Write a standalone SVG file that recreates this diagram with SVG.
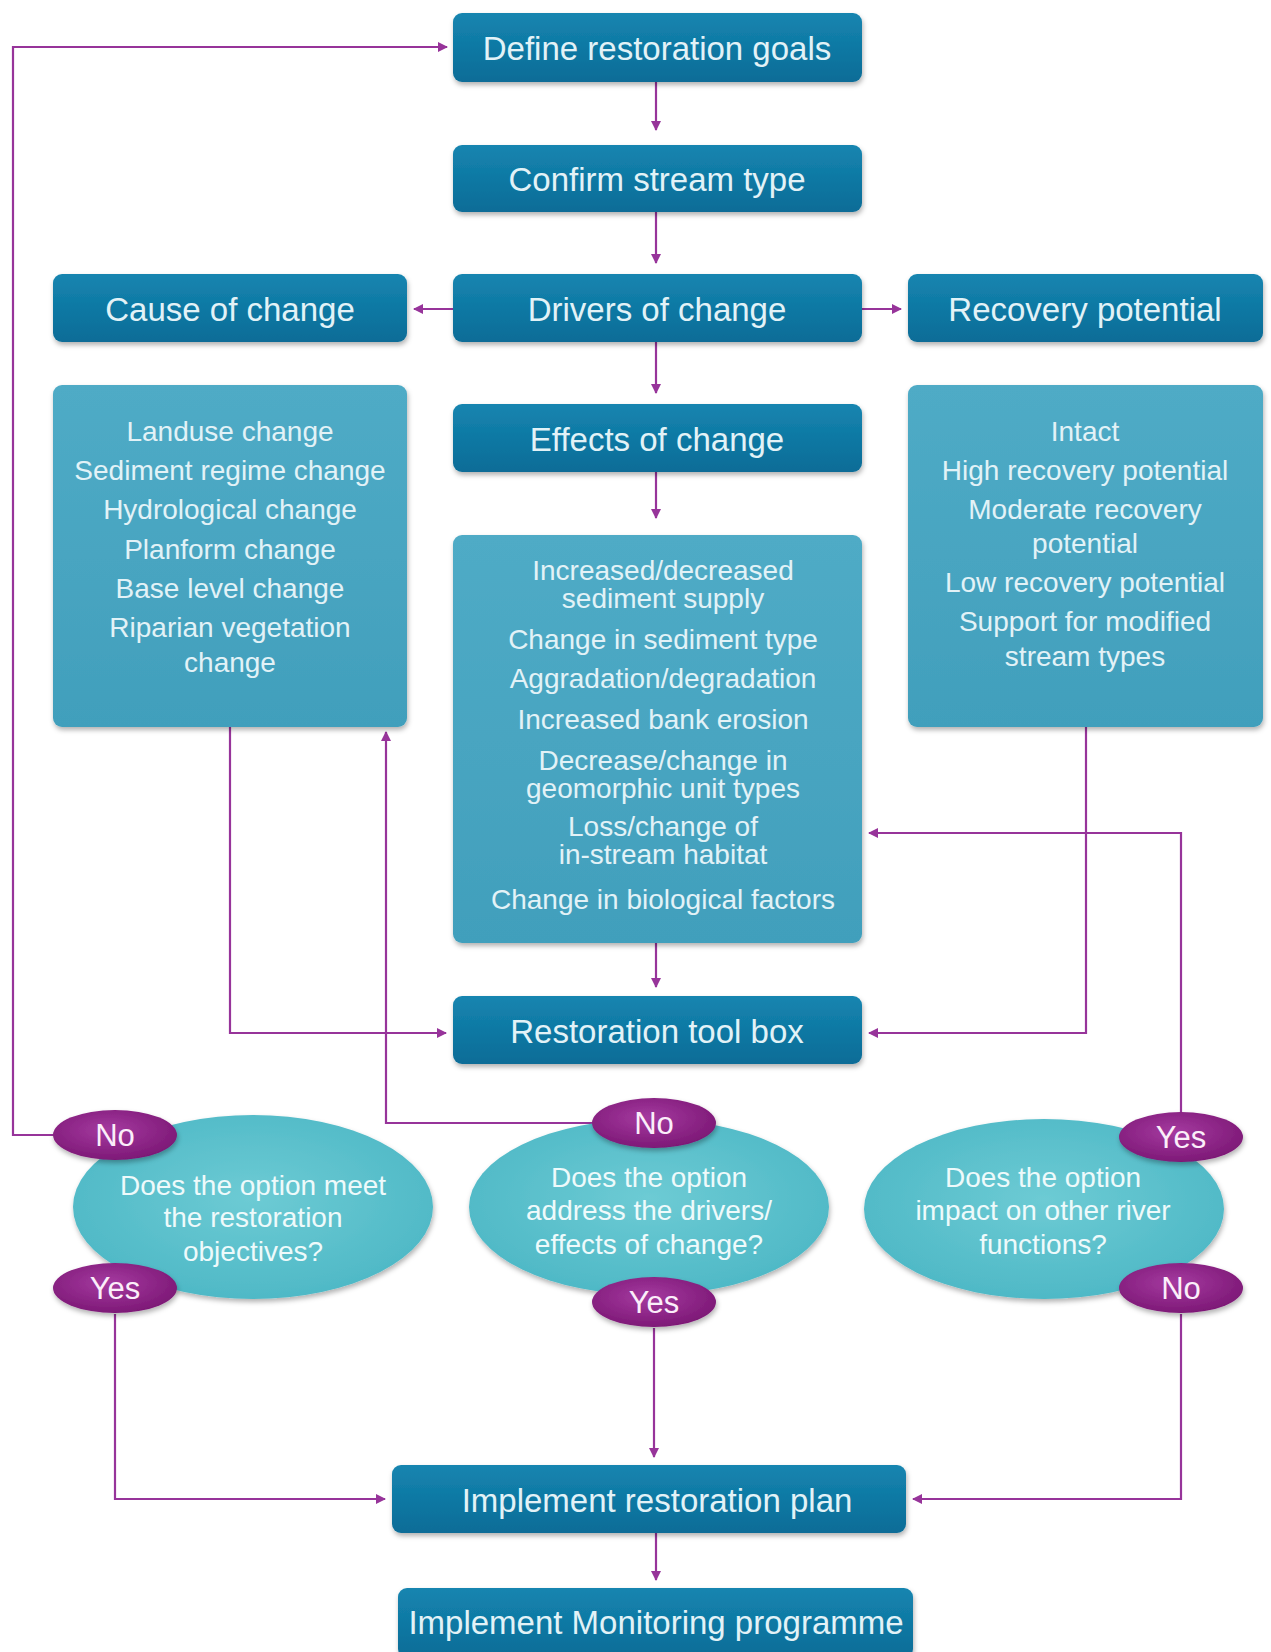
<svg xmlns="http://www.w3.org/2000/svg" width="1271" height="1652" viewBox="0 0 1271 1652">
<defs>
<linearGradient id="gDark" x1="0" y1="0" x2="0" y2="1">
<stop offset="0" stop-color="#1585b0"/><stop offset="1" stop-color="#0a6c97"/>
</linearGradient>
<linearGradient id="gLight" x1="0" y1="0" x2="0" y2="1">
<stop offset="0" stop-color="#4fabc6"/><stop offset="1" stop-color="#419fbc"/>
</linearGradient>
<radialGradient id="gEll" cx="0.5" cy="0.45" r="0.6">
<stop offset="0" stop-color="#6dcbd4"/><stop offset="1" stop-color="#4cb7c5"/>
</radialGradient>
<radialGradient id="gBadge" cx="0.45" cy="0.4" r="0.65">
<stop offset="0" stop-color="#a53aa0"/><stop offset="1" stop-color="#7a1673"/>
</radialGradient>
<filter id="sh" x="-10%" y="-10%" width="120%" height="130%">
<feDropShadow dx="1" dy="3" stdDeviation="2.5" flood-color="#000" flood-opacity="0.3"/>
</filter>
<marker id="arr" viewBox="0 0 10 10" refX="9" refY="5" markerWidth="10" markerHeight="10" markerUnits="userSpaceOnUse" orient="auto">
<path d="M0,0 L10,5 L0,10 z" fill="#97349a"/>
</marker>
<style>
.dark{fill:url(#gDark);filter:url(#sh)}
.light{fill:url(#gLight);filter:url(#sh)}
.ell{fill:url(#gEll);filter:url(#sh)}
.badge{fill:url(#gBadge);filter:url(#sh)}
.h{font-family:"Liberation Sans",Arial,sans-serif;font-size:33px;fill:#e2f2f7;text-anchor:middle}
.t{font-family:"Liberation Sans",Arial,sans-serif;font-size:28px;fill:#e2f2f7;text-anchor:middle}
.q{font-family:"Liberation Sans",Arial,sans-serif;font-size:28px;fill:#eefafb;text-anchor:middle}
.b{font-family:"Liberation Sans",Arial,sans-serif;font-size:31px;fill:#fbeefa;text-anchor:middle}
.c{fill:none;stroke:#97349a;stroke-width:2.2;marker-end:url(#arr)}
</style>
</defs>
<rect width="1271" height="1652" fill="#ffffff"/>
<g id="connectors">
<path class="c" d="M54 1135 H13 V47 H447"/>
<path class="c" d="M656 82 V130"/>
<path class="c" d="M656 212 V263"/>
<path class="c" d="M453 309 H414"/>
<path class="c" d="M862 309 H901"/>
<path class="c" d="M656 342 V393"/>
<path class="c" d="M656 472 V518"/>
<path class="c" d="M656 943 V987"/>
<path class="c" d="M230 727 V1033 H446"/>
<path class="c" d="M1086 727 V1033 H869"/>
<path class="c" d="M593 1123 H386 V732"/>
<path class="c" d="M1181 1112 V833 H869"/>
<path class="c" d="M115 1314 V1499 H385"/>
<path class="c" d="M654 1328 V1457"/>
<path class="c" d="M1181 1314 V1499 H913"/>
<path class="c" d="M656 1533 V1580"/>
</g>
<g id="define"><rect class="dark" x="453" y="13" width="409" height="69" rx="9"/><text class="h" x="657" y="60">Define restoration goals</text></g>
<g id="confirm"><rect class="dark" x="453" y="145" width="409" height="67" rx="9"/><text class="h" x="657" y="191">Confirm stream type</text></g>
<g id="drivers"><rect class="dark" x="453" y="274" width="409" height="68" rx="9"/><text class="h" x="657" y="321">Drivers of change</text></g>
<g id="cause"><rect class="dark" x="53" y="274" width="354" height="68" rx="9"/><text class="h" x="230" y="321">Cause of change</text></g>
<g id="recovery"><rect class="dark" x="908" y="274" width="355" height="68" rx="9"/><text class="h" x="1085" y="321">Recovery potential</text></g>
<g id="causes-list"><rect class="light" x="53" y="385" width="354" height="342" rx="9"/>
<text class="t" x="230" y="441">Landuse change</text>
<text class="t" x="230" y="480">Sediment regime change</text>
<text class="t" x="230" y="519">Hydrological change</text>
<text class="t" x="230" y="559">Planform change</text>
<text class="t" x="230" y="598">Base level change</text>
<text class="t" x="230" y="637">Riparian vegetation</text>
<text class="t" x="230" y="672">change</text>
</g>
<g id="effects"><rect class="dark" x="453" y="404" width="409" height="68" rx="9"/><text class="h" x="657" y="451">Effects of change</text></g>
<g id="effects-list"><rect class="light" x="453" y="535" width="409" height="408" rx="9"/>
<text class="t" x="663" y="580">Increased/decreased</text>
<text class="t" x="663" y="608">sediment supply</text>
<text class="t" x="663" y="649">Change in sediment type</text>
<text class="t" x="663" y="688">Aggradation/degradation</text>
<text class="t" x="663" y="729">Increased bank erosion</text>
<text class="t" x="663" y="770">Decrease/change in</text>
<text class="t" x="663" y="798">geomorphic unit types</text>
<text class="t" x="663" y="836">Loss/change of</text>
<text class="t" x="663" y="864">in-stream habitat</text>
<text class="t" x="663" y="909">Change in biological factors</text>
</g>
<g id="recovery-list"><rect class="light" x="908" y="385" width="355" height="342" rx="9"/>
<text class="t" x="1085" y="441">Intact</text>
<text class="t" x="1085" y="480">High recovery potential</text>
<text class="t" x="1085" y="519">Moderate recovery</text>
<text class="t" x="1085" y="553">potential</text>
<text class="t" x="1085" y="592">Low recovery potential</text>
<text class="t" x="1085" y="631">Support for modified</text>
<text class="t" x="1085" y="666">stream types</text>
</g>
<g id="toolbox"><rect class="dark" x="453" y="996" width="409" height="68" rx="9"/><text class="h" x="657" y="1043">Restoration tool box</text></g>
<g id="q-objectives"><ellipse class="ell" cx="253" cy="1207" rx="180" ry="92"/>
<text class="q" x="253" y="1195">Does the option meet</text>
<text class="q" x="253" y="1227">the restoration</text>
<text class="q" x="253" y="1261">objectives?</text>
</g>
<g id="q-drivers"><ellipse class="ell" cx="649" cy="1207" rx="180" ry="88"/>
<text class="q" x="649" y="1187">Does the option</text>
<text class="q" x="649" y="1220">address the drivers/</text>
<text class="q" x="649" y="1254">effects of change?</text>
</g>
<g id="q-impact"><ellipse class="ell" cx="1044" cy="1209" rx="180" ry="90"/>
<text class="q" x="1043" y="1187">Does the option</text>
<text class="q" x="1043" y="1220">impact on other river</text>
<text class="q" x="1043" y="1254">functions?</text>
</g>
<g id="no-left"><ellipse class="badge" cx="115" cy="1135" rx="62" ry="25"/><text class="b" x="115" y="1146">No</text></g>
<g id="yes-left"><ellipse class="badge" cx="115" cy="1288" rx="62" ry="25"/><text class="b" x="115" y="1299">Yes</text></g>
<g id="no-mid"><ellipse class="badge" cx="654" cy="1123" rx="62" ry="25"/><text class="b" x="654" y="1134">No</text></g>
<g id="yes-mid"><ellipse class="badge" cx="654" cy="1302" rx="62" ry="25"/><text class="b" x="654" y="1313">Yes</text></g>
<g id="yes-right"><ellipse class="badge" cx="1181" cy="1137" rx="62" ry="25"/><text class="b" x="1181" y="1148">Yes</text></g>
<g id="no-right"><ellipse class="badge" cx="1181" cy="1288" rx="62" ry="25"/><text class="b" x="1181" y="1299">No</text></g>
<g id="plan"><rect class="dark" x="392" y="1465" width="514" height="68" rx="9"/><text class="h" x="657" y="1512">Implement restoration plan</text></g>
<g id="monitoring"><rect class="dark" x="398" y="1588" width="515" height="70" rx="9"/><text class="h" x="656" y="1634">Implement Monitoring programme</text></g>
</svg>
